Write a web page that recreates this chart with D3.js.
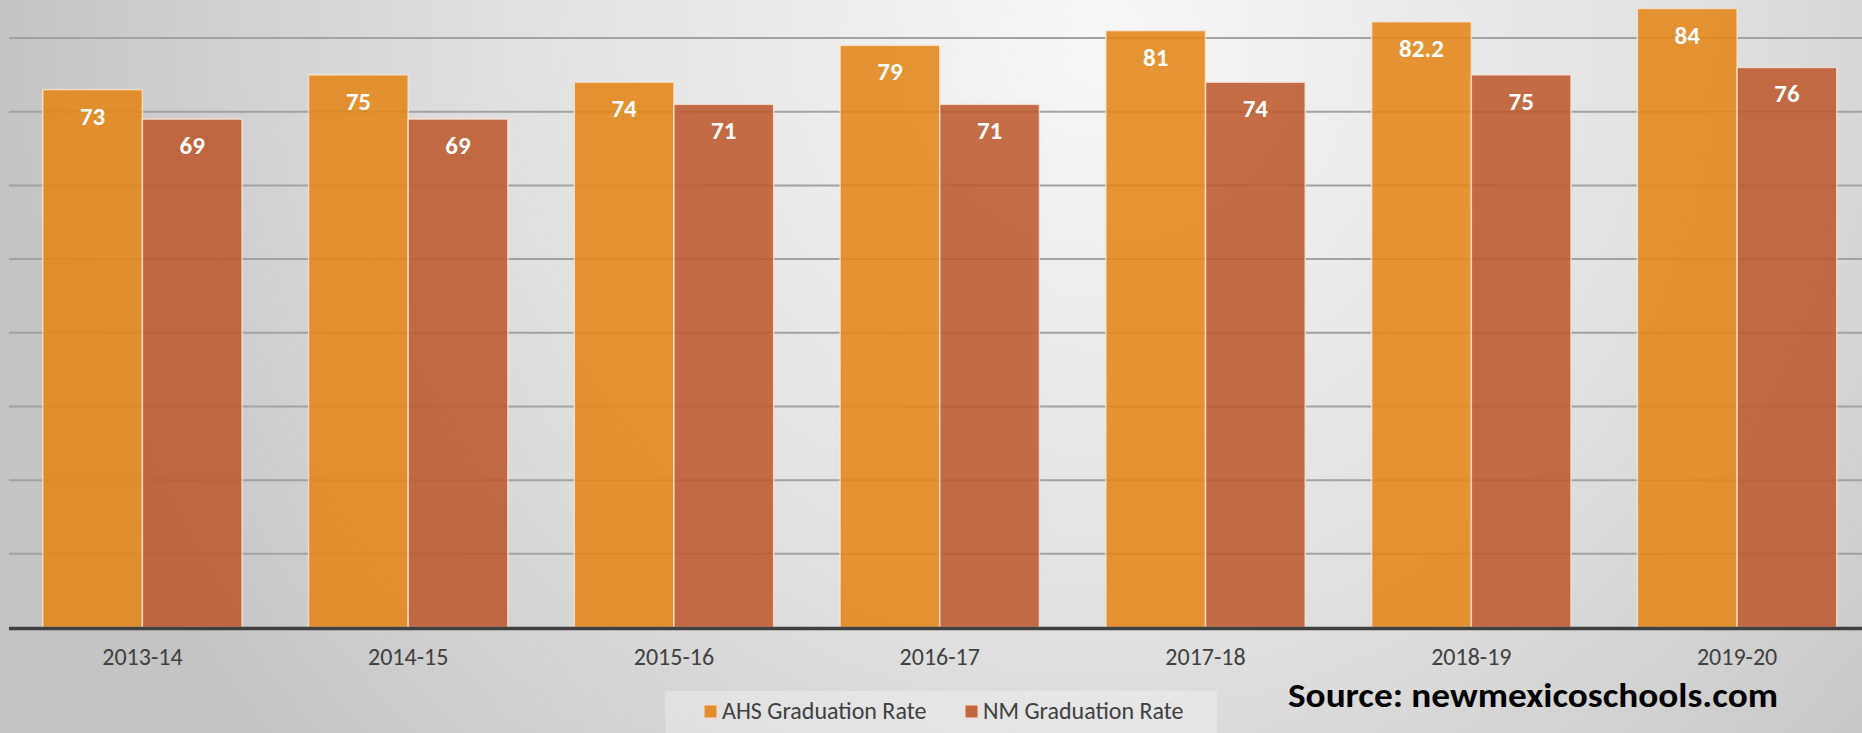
<!DOCTYPE html>
<html>
<head>
<meta charset="utf-8">
<script src="https://cdn.jsdelivr.net/npm/d3@7"></script>
<style>
  html, body { margin: 0; padding: 0; overflow: hidden; }
  svg { display: block; }
</style>
</head>
<body>
<div id="chart"></div>
<script>
const categories = ["2013-14", "2014-15", "2015-16", "2016-17", "2017-18", "2018-19", "2019-20"];
const seriesNames = ["AHS Graduation Rate", "NM Graduation Rate"];
const ahsRate = [73, 75, 74, 79, 81, 82.2, 84];
const nmRate = [69, 69, 71, 71, 74, 75, 76];
const gridTicks = [10, 20, 30, 40, 50, 60, 70, 80, 90];
const colors = ["#e38518", "#bc592c"];

const width = 1862;
const height = 733;
const font = "Carlito, 'Noto Sans', sans-serif";

const svg = d3
  .select("#chart")
  .append("svg")
  .attr("width", width)
  .attr("height", height);

// background gradient
const defs = svg.append("defs");
const grad = defs
  .append("radialGradient")
  .attr("id", "bg")
  .attr("gradientUnits", "userSpaceOnUse")
  .attr("cx", 1100)
  .attr("cy", 40)
  .attr("r", 1100);
grad.append("stop").attr("offset", "0%").attr("stop-color", "#f7f7f7");
grad.append("stop").attr("offset", "55%").attr("stop-color", "#e0e0e0");
grad.append("stop").attr("offset", "100%").attr("stop-color", "#c4c4c4");

svg
  .append("rect")
  .attr("width", width)
  .attr("height", height)
  .attr("fill", "url(#bg)");

const rows = categories.map((c, i) => ({
  cat: c,
  values: [
    { key: seriesNames[0], value: ahsRate[i] },
    { key: seriesNames[1], value: nmRate[i] },
  ],
}));

const x = d3
  .scaleBand()
  .domain(categories)
  .range([9.5, 1870])
  .paddingInner(0.25)
  .paddingOuter(0.125);

const xSub = d3
  .scaleBand()
  .domain(seriesNames)
  .range([0, x.bandwidth()]);

const y = d3.scaleLinear().domain([0, 80]).range([627.5, 38]);

// gridlines
svg
  .append("g")
  .selectAll("line")
  .data(gridTicks)
  .enter()
  .append("line")
  .attr("x1", 9)
  .attr("x2", width)
  .attr("y1", (d) => y(d))
  .attr("y2", (d) => y(d))
  .attr("stroke", "#a2a2a2")
  .attr("stroke-width", 2);

// bars
const groups = svg
  .append("g")
  .selectAll("g")
  .data(rows)
  .enter()
  .append("g")
  .attr("transform", (d) => `translate(${x(d.cat)},0)`);

groups
  .selectAll("rect")
  .data((d) => d.values)
  .enter()
  .append("rect")
  .attr("x", (d) => xSub(d.key))
  .attr("y", (d) => y(d.value))
  .attr("width", xSub.bandwidth())
  .attr("height", (d) => y(0) - y(d.value))
  .attr("fill", (d, i) => colors[i])
  .attr("fill-opacity", 0.88)
  .attr("stroke", "#f6e6d8")
  .attr("stroke-opacity", 0.8)
  .attr("stroke-width", 1.5);

groups
  .selectAll("text")
  .data((d) => d.values)
  .enter()
  .append("text")
  .attr("x", (d) => xSub(d.key) + xSub.bandwidth() / 2)
  .attr("y", (d) => y(d.value) + 35)
  .attr("text-anchor", "middle")
  .attr("font-family", font)
  .attr("font-weight", "bold")
  .attr("font-size", 25)
  .attr("fill", "#ffffff")
  .text((d) => d.value);

// baseline
svg
  .append("line")
  .attr("x1", 9)
  .attr("x2", width)
  .attr("y1", y(0) + 1)
  .attr("y2", y(0) + 1)
  .attr("stroke", "#404040")
  .attr("stroke-width", 3.5);

// category axis
const xAxis = svg
  .append("g")
  .attr("transform", `translate(0,${y(0) + 2})`)
  .call(d3.axisBottom(x).tickSize(0).tickPadding(18));
xAxis.select(".domain").remove();
xAxis
  .selectAll("text")
  .attr("font-family", font)
  .attr("font-size", 24)
  .attr("fill", "#404040");

// legend
const legend = svg.append("g");
legend
  .append("rect")
  .attr("x", 665)
  .attr("y", 691)
  .attr("width", 552)
  .attr("height", 42)
  .attr("fill", "#ffffff")
  .attr("fill-opacity", 0.28);

const legendX = [704, 965];
seriesNames.forEach((name, i) => {
  legend
    .append("rect")
    .attr("x", legendX[i])
    .attr("y", 705)
    .attr("width", 13)
    .attr("height", 13)
    .attr("fill", colors[i])
    .attr("fill-opacity", 0.9)
    .attr("stroke", "#f6e0d0")
    .attr("stroke-width", 1);
  legend
    .append("text")
    .attr("x", legendX[i] + 18)
    .attr("y", 719)
    .attr("font-family", font)
    .attr("font-size", 24)
    .attr("fill", "#404040")
    .text(name);
});

// source note
svg
  .append("text")
  .attr("x", 1288)
  .attr("y", 707)
  .attr("font-family", font)
  .attr("font-weight", "bold")
  .attr("font-size", 34)
  .attr("fill", "#000000")
  .attr("textLength", 490)
  .attr("lengthAdjust", "spacingAndGlyphs")
  .text("Source: newmexicoschools.com");
</script>
</body>
</html>
